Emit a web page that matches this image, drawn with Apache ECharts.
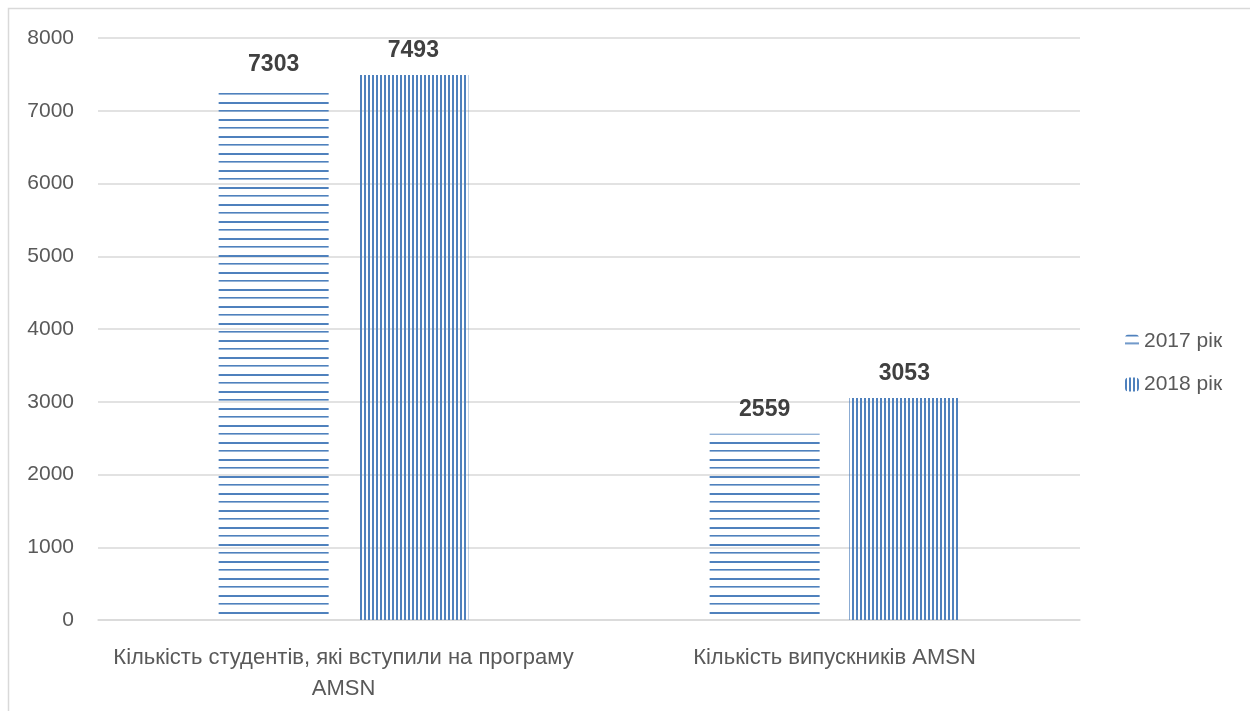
<!DOCTYPE html>
<html>
<head>
<meta charset="utf-8">
<script src="https://cdn.jsdelivr.net/npm/echarts@6/dist/echarts.min.js"></script>
<style>
  html, body { margin: 0; padding: 0; background: #fff; }
  #chart { width: 1250px; height: 711px; }
</style>
</head>
<body>
<div id="chart"></div>
<script>
// Категорії та значення
const categories = [
  'Кількість студентів, які вступили на програму\nAMSN',
  'Кількість випускників AMSN'
];
const seriesNames = ['2017 рік', '2018 рік'];
const values2017 = [7303, 2559];
const values2018 = [7493, 3053];
const yTicks = [0, 1000, 2000, 3000, 4000, 5000, 6000, 7000, 8000];

const BLUE = '#4f81bd';
const FONT = '"Liberation Sans", Arial, sans-serif';

// Штрихування: горизонтальні смуги (2017) та вертикальні смуги (2018)
function stripes(horizontal) {
  const c = document.createElement('canvas');
  if (horizontal) {
    c.width = 8; c.height = 17;
    const g = c.getContext('2d');
    g.fillStyle = BLUE;
    g.fillRect(0, 0, 8, 2);
    g.fillRect(0, 8, 8, 1.6);
  } else {
    c.width = 4; c.height = 8;
    const g = c.getContext('2d');
    g.fillStyle = BLUE;
    g.fillRect(0, 0, 2, 8);
  }
  return c;
}
const patH = { image: stripes(true), repeat: 'repeat' };
const patV = { image: stripes(false), repeat: 'repeat' };

const chart = echarts.init(document.getElementById('chart'), null, { renderer: 'canvas' });

const labelStyle = {
  show: true,
  position: 'top',
  distance: 13,
  fontFamily: FONT,
  fontWeight: 'bold',
  fontSize: 23,
  color: '#404040'
};

chart.setOption({
  animation: false,
  backgroundColor: '#fff',
  graphic: [{
    type: 'rect',
    shape: { x: 8.5, y: 8.5, width: 1300, height: 800 },
    style: { fill: 'none', stroke: '#d9d9d9', lineWidth: 1.5 },
    silent: true,
    z: -1
  }],
  grid: { left: 98, right: 170, top: 38, bottom: 91 },
  legend: {
    orient: 'vertical',
    left: 1120,
    top: 326,
    itemGap: 22,
    itemWidth: 14,
    itemHeight: 14,
    textStyle: { fontFamily: FONT, fontSize: 21, color: '#595959' },
    data: seriesNames
  },
  xAxis: {
    type: 'category',
    data: categories,
    axisLine: { lineStyle: { color: '#d9d9d9', width: 1.5 } },
    axisTick: { show: false },
    axisLabel: {
      interval: 0,
      margin: 22,
      fontFamily: FONT,
      fontSize: 22,
      lineHeight: 31,
      color: '#595959'
    }
  },
  yAxis: {
    type: 'value',
    min: 0,
    max: 8000,
    interval: 1000,
    axisLine: { show: false },
    axisTick: { show: false },
    splitLine: { lineStyle: { color: '#d9d9d9', width: 1.5 } },
    axisLabel: {
      margin: 24,
      fontFamily: FONT,
      fontSize: 21,
      color: '#595959',
      formatter: v => (yTicks.includes(v) ? String(v) : '')
    }
  },
  series: [
    {
      name: seriesNames[0],
      type: 'bar',
      data: values2017,
      barWidth: 110,
      barGap: '27%',
      itemStyle: { color: patH },
      label: labelStyle
    },
    {
      name: seriesNames[1],
      type: 'bar',
      data: values2018,
      barWidth: 110,
      itemStyle: { color: patV },
      label: labelStyle
    }
  ]
});
</script>
</body>
</html>
